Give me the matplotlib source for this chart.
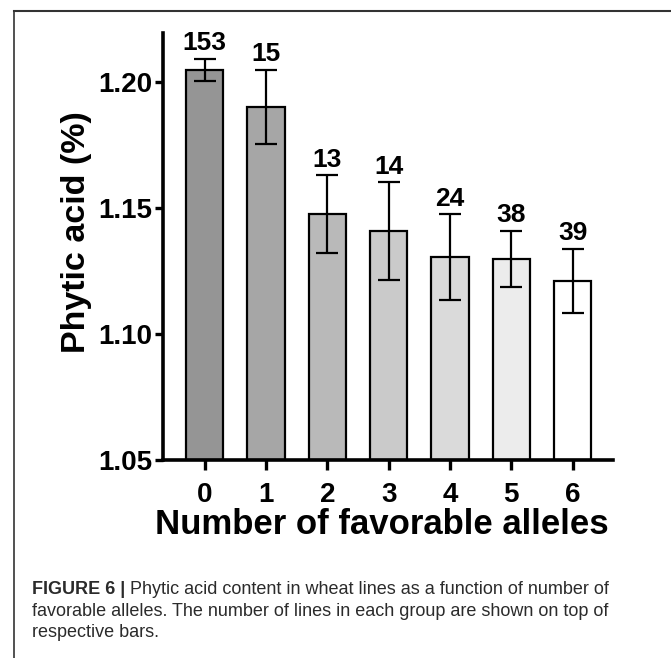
import matplotlib
matplotlib.use('Agg')
import matplotlib.pyplot as plt
from matplotlib import font_manager

# data
alleles = ['0', '1', '2', '3', '4', '5', '6']
phytic_mean = [1.2048, 1.1901, 1.1476, 1.1408, 1.1305, 1.1297, 1.1210]
phytic_err = [0.0043, 0.0148, 0.0154, 0.0194, 0.0170, 0.0112, 0.0127]
n_lines = [153, 15, 13, 14, 24, 38, 39]
bar_colors = ['#959595', '#a6a6a6', '#b9b9b9', '#cacaca', '#dadada', '#ececec', '#ffffff']

names = {f.name for f in font_manager.fontManager.ttflist}
bold_font = 'Liberation Sans' if 'Liberation Sans' in names else 'DejaVu Sans'

fig = plt.figure(figsize=(6.71, 6.58), dpi=100)
ax = fig.add_axes([163/671, 1 - 460/658, 450/671, 427/658])

x = list(range(len(alleles)))
ax.bar(x, [m - 1.05 for m in phytic_mean], bottom=1.05, width=0.61,
       color=bar_colors, edgecolor='black', linewidth=1.6, zorder=2)
ax.errorbar(x, phytic_mean, yerr=phytic_err, fmt='none', ecolor='black',
            elinewidth=1.6, capsize=8, capthick=1.6, zorder=3)

for xi, m, e, n in zip(x, phytic_mean, phytic_err, n_lines):
    ax.text(xi, m + e + 0.0015, str(n), ha='center', va='bottom',
            fontsize=19, fontweight='bold', family=bold_font)

ax.set_ylim(1.05, 1.2195)
ax.set_xlim(-0.68, 6.66)
ax.set_yticks([1.05, 1.10, 1.15, 1.20])
ax.set_yticklabels(['1.05', '1.10', '1.15', '1.20'])
ax.set_xticks(x)
ax.set_xticklabels(alleles)

for lab in ax.get_xticklabels() + ax.get_yticklabels():
    lab.set_fontweight('bold')
    lab.set_family(bold_font)
    lab.set_fontsize(20)

ax.spines['top'].set_visible(False)
ax.spines['right'].set_visible(False)
ax.spines['left'].set_linewidth(2.6)
ax.spines['bottom'].set_linewidth(2.6)
ax.tick_params(axis='y', direction='out', length=6, width=2.4, pad=2)
ax.tick_params(axis='x', direction='out', length=7, width=2.4, pad=9)

ax.set_ylabel('Phytic acid (%)', fontsize=24.5, fontweight='bold', family=bold_font, labelpad=4)
ax.set_xlabel('Number of favorable alleles', fontsize=25, fontweight='bold', family=bold_font, labelpad=0)
ax.yaxis.label.set_y(0.533)
ax.xaxis.label.set_x(0.486)

# caption: bold figure number then the plain text right after it
cap_color = '#2b2b2b'
cap_size = 13
bold_part = fig.text(32/671, 1 - 594/658, 'FIGURE 6 |', fontsize=cap_size, fontweight='bold',
                     family=bold_font, color=cap_color, va='baseline')
renderer = fig.canvas.get_renderer()
bb = bold_part.get_window_extent(renderer=renderer)
fig.text((bb.x1 + 5) / 671, 1 - 594/658,
         'Phytic acid content in wheat lines as a function of number of',
         fontsize=cap_size, family=bold_font, color=cap_color, va='baseline')
fig.text(32/671, 1 - 616/658,
         'favorable alleles. The number of lines in each group are shown on top of',
         fontsize=cap_size, family=bold_font, color=cap_color, va='baseline')
fig.text(32/671, 1 - 637/658, 'respective bars.', fontsize=cap_size, family=bold_font,
         color=cap_color, va='baseline')

# page frame (left and top edges)
fig.add_artist(plt.Line2D([14/671, 14/671], [0, 1 - 11/658], color='#333333', linewidth=1.2))
fig.add_artist(plt.Line2D([14/671, 1], [1 - 11/658, 1 - 11/658], color='#333333', linewidth=1.5))

fig.savefig('out.png', dpi=100)
